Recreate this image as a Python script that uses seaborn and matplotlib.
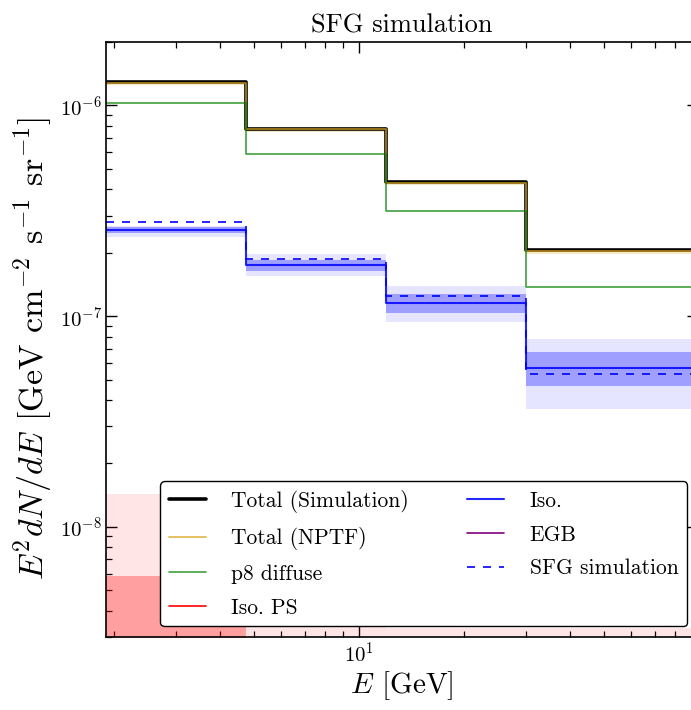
import numpy as np
import pandas as pd
import matplotlib
matplotlib.use("Agg")
import matplotlib.pyplot as plt
from matplotlib.ticker import NullFormatter, LogLocator
import seaborn as sns

# Energy bin edges [GeV]
energy_edges = [1.893, 4.755, 11.94, 30.0, 93.0]

# Fluxes E^2 dN/dE [GeV cm^-2 s^-1 sr^-1] per energy bin
total_simulation = [1.29e-6, 7.75e-7, 4.32e-7, 2.05e-7]
total_nptf = [1.28e-6, 7.70e-7, 4.29e-7, 2.03e-7]
total_nptf_lo = [1.25e-6, 7.50e-7, 4.19e-7, 1.97e-7]
total_nptf_hi = [1.31e-6, 7.90e-7, 4.40e-7, 2.09e-7]
p8_diffuse = [1.025e-6, 5.91e-7, 3.14e-7, 1.37e-7]

iso = [2.557e-7, 1.75e-7, 1.16e-7, 5.65e-8]
iso_1s_lo = [2.47e-7, 1.645e-7, 1.031e-7, 4.64e-8]
iso_1s_hi = [2.66e-7, 1.855e-7, 1.279e-7, 6.78e-8]
iso_2s_lo = [2.37e-7, 1.545e-7, 9.34e-8, 3.61e-8]
iso_2s_hi = [2.69e-7, 1.98e-7, 1.396e-7, 7.82e-8]

iso_ps = [1.2e-9, 2e-10, 2e-10, 2e-10]
iso_ps_1s_lo = [1e-11, 1e-11, 1e-11, 1e-11]
iso_ps_1s_hi = [5.85e-9, 1.5e-9, 1.5e-9, 1.5e-9]
iso_ps_2s_lo = [1e-12, 1e-12, 1e-12, 1e-12]
iso_ps_2s_hi = [1.435e-8, 3.35e-9, 3.3e-9, 3.3e-9]

egb = [1e-11, 1e-11, 1e-11, 1e-11]
sfg_simulation = [2.80e-7, 1.87e-7, 1.25e-7, 5.33e-8]

legend_labels = ["Total (Simulation)", "Total (NPTF)", "p8 diffuse", "Iso. PS",
                 "Iso.", "EGB", "SFG simulation"]


def stepped(values):
    """Repeat the last bin value so a post-step reaches the final edge."""
    return list(values) + [values[-1]]


sns.set_theme(style="ticks")
plt.rcParams.update({
    "font.family": "serif",
    "font.serif": ["cmr10"],
    "mathtext.fontset": "cm",
    "axes.formatter.use_mathtext": True,
    "axes.unicode_minus": False,
    "axes.edgecolor": "black",
    "axes.linewidth": 1.2,
    "xtick.color": "black",
    "ytick.color": "black",
    "text.color": "black",
    "axes.labelcolor": "black",
})

fig = plt.figure(figsize=(6.91, 7.10), dpi=100)
ax = fig.add_axes([106 / 691, 1 - 637 / 710, (698 - 106) / 691, (637 - 42) / 710])
ax.set_xscale("log")
ax.set_yscale("log")

x = energy_edges

# Uncertainty bands
ax.fill_between(x, stepped(iso_ps_2s_lo), stepped(iso_ps_2s_hi), step="post",
                color="red", alpha=0.1, lw=0)
ax.fill_between(x, stepped(iso_ps_1s_lo), stepped(iso_ps_1s_hi), step="post",
                color="red", alpha=0.3, lw=0)
ax.fill_between(x, stepped(iso_2s_lo), stepped(iso_2s_hi), step="post",
                color="blue", alpha=0.1, lw=0)
ax.fill_between(x, stepped(iso_1s_lo), stepped(iso_1s_hi), step="post",
                color="blue", alpha=0.3, lw=0)
ax.fill_between(x, stepped(total_nptf_lo), stepped(total_nptf_hi), step="post",
                color="goldenrod", alpha=0.25, lw=0)


def step_line(values, **kws):
    df = pd.DataFrame({"E": x, "flux": stepped(values)})
    sns.lineplot(data=df, x="E", y="flux", drawstyle="steps-post",
                 estimator=None, sort=False, ax=ax, **kws)
    return ax.lines[-1]


h_sim = step_line(total_simulation, color="black", lw=2.6)
h_nptf = step_line(total_nptf, color="goldenrod", lw=1.3, alpha=0.75)
h_p8 = step_line(p8_diffuse, color="green", lw=1.2, alpha=0.75)
h_ps = step_line(iso_ps, color="red", lw=1.2)
h_iso = step_line(iso, color="blue", lw=1.5, alpha=0.85)
h_egb = step_line(egb, color="purple", lw=1.2)
h_sfg = step_line(sfg_simulation, color="blue", lw=1.2)
h_sfg.set_dashes((4.8, 4.8))

ax.set_xlim(energy_edges[0], energy_edges[-1])
ax.set_ylim(3e-9, 2e-6)

ax.xaxis.set_minor_formatter(NullFormatter())
ax.yaxis.set_minor_formatter(NullFormatter())
ax.yaxis.set_minor_locator(LogLocator(base=10, subs=np.arange(2, 10), numticks=20))
ax.tick_params(which="both", direction="in", top=True, right=True, labelsize=15)
ax.tick_params(axis="y", pad=3)
ax.tick_params(which="major", length=8, width=1.0)
ax.tick_params(which="minor", length=4, width=0.9)

ax.set_title("SFG simulation", fontsize=19, pad=7)
ax.set_xlabel(r"$E$ [GeV]", fontsize=21, labelpad=2)
ax.set_ylabel(r"$E^2dN/dE$ [GeV cm$^{-2}$ s$^{-1}$ sr$^{-1}$]", fontsize=24.5)
ax.yaxis.set_label_coords(-0.087, 0.485)

leg = ax.legend([h_sim, h_nptf, h_p8, h_ps, h_iso, h_egb, h_sfg], legend_labels,
                loc="lower right", ncol=2, fontsize=15.5, frameon=True, fancybox=True,
                framealpha=1.0, edgecolor="black", handlelength=1.7,
                handletextpad=1.2, columnspacing=2.7, labelspacing=0.66)
leg.get_frame().set_linewidth(1.0)

fig.savefig("out.png", dpi=100)
